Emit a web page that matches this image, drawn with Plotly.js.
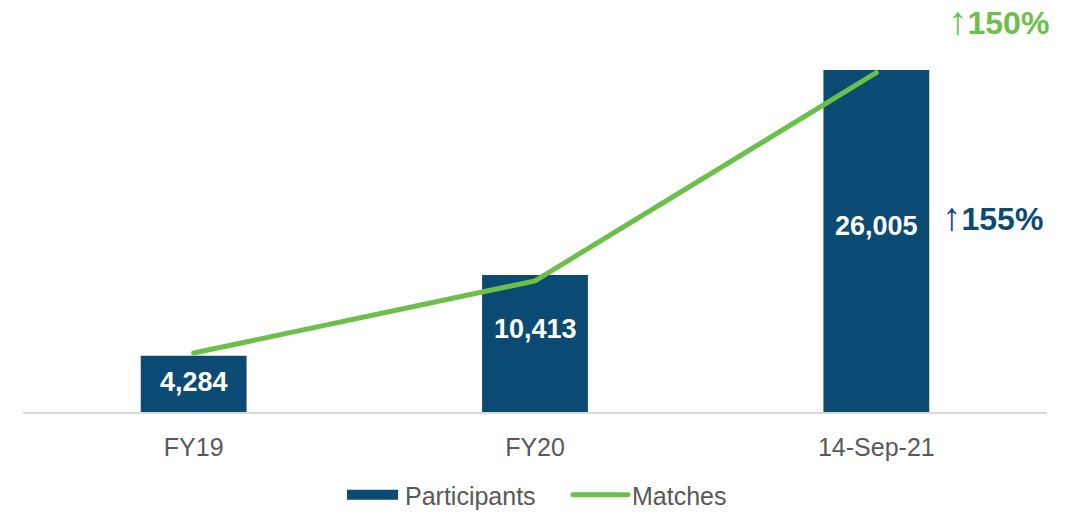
<!DOCTYPE html>
<html>
<head>
<meta charset="utf-8">
<script src="https://cdn.plot.ly/plotly-3.0.1.min.js"></script>
<style>
html,body{margin:0;padding:0;background:#fff;}
#chart{width:1076px;height:512px;}
.scatterlayer path.js-line {stroke-linecap: round;}
</style>
</head>
<body>
<div id="chart"></div>
<script>
const categories = ["FY19", "FY20", "14-Sep-21"];
const participants = [4284, 10413, 26005];
const participantLabels = ["4,284", "10,413", "26,005"];
const matches = [480, 1000, 2500];
const participantsGrowth = "155%";
const matchesGrowth = "150%";
const arrow = "↑";

const blue = "#0B4A72";
const green = "#6CC04A";
const font = "Arial, 'Liberation Sans', sans-serif";

const traces = [
  {
    type: "bar", name: "Participants", x: categories, y: participants,
    marker: {color: blue}, hoverinfo: "skip", showlegend: false
  },
  {
    type: "scatter", mode: "lines", name: "Participants", x: categories, y: [null, null, null],
    line: {color: blue, width: 16}, hoverinfo: "skip", showlegend: true
  },
  {
    type: "scatter", mode: "lines", name: "Matches", x: categories, y: matches,
    yaxis: "y2", line: {color: green, width: 5}, hoverinfo: "skip"
  }
];

const labelShift = [2, 15, 15];
const annotations = categories.map((c, i) => ({
  x: c, y: participants[i] / 2, xref: "x", yref: "y",
  text: "<b>" + participantLabels[i] + "</b>", showarrow: false,
  yshift: labelShift[i],
  font: {family: font, size: 27, color: "#ffffff"}
}));
annotations.push({
  x: 1.004, y: 1.0, xref: "paper", yref: "paper", xanchor: "right", yanchor: "middle",
  text: "<span style='font-size:39px'>" + arrow + "</span><b>" + matchesGrowth + "</b>",
  showarrow: false, font: {family: font, size: 32, color: green}
});
annotations.push({
  x: 0.947, y: 0.5, xref: "paper", yref: "paper", xanchor: "center", yanchor: "middle",
  text: "<span style='font-size:39px'>" + arrow + "</span><b>" + participantsGrowth + "</b>",
  showarrow: false, font: {family: font, size: 32, color: blue}
});

const layout = {
  width: 1076, height: 512,
  margin: {l: 23, r: 29, t: 20, b: 100, autoexpand: false},
  paper_bgcolor: "#ffffff", plot_bgcolor: "#ffffff",
  bargap: 0.69,
  font: {family: font, color: "#595959"},
  xaxis: {
    showline: true, linecolor: "#D9D9D9", linewidth: 2,
    showgrid: false, zeroline: false, ticks: "",
    ticklabelstandoff: 12,
    tickfont: {family: font, size: 25, color: "#595959"}
  },
  yaxis: {range: [0, 29800], visible: false, showgrid: false, zeroline: false},
  yaxis2: {range: [55, 2880], overlaying: "y", visible: false, showgrid: false, zeroline: false},
  showlegend: true,
  legend: {
    orientation: "h", x: 0.5, xanchor: "center", y: -0.212, yanchor: "middle",
    font: {family: font, size: 25, color: "#595959"},
    bgcolor: "rgba(0,0,0,0)", tracegroupgap: 0
  },
  annotations: annotations
};

// legend swatch placement (page px): swatch start, swatch length, text offset
const legendPlace = [[347, 51, 58], [573, 55, 59]];

Plotly.newPlot("chart", traces, layout, {displayModeBar: false, staticPlot: true}).then(gd => {
  const sb = gd.querySelector(".legend .scrollbox");
  if (sb) sb.removeAttribute("clip-path");
  const items = gd.querySelectorAll(".legend .traces");
  items.forEach((g, i) => {
    const pl = legendPlace[i];
    if (!pl) return;
    const p = g.querySelector("path.js-line");
    if (p) {
      p.setAttribute("d", "M0,0h" + pl[1]);
      p.style.strokeLinecap = i === 0 ? "butt" : "round";
    }
    const t = g.querySelector("text.legendtext");
    if (t) t.setAttribute("x", String(pl[2]));
    const m = /translate\(\s*([-\d.]+)[ ,]+([-\d.]+)\s*\)/.exec(g.getAttribute("transform") || "");
    const ctm = g.getScreenCTM();
    if (m && ctm) {
      const nx = parseFloat(m[1]) + (pl[0] - ctm.e);
      g.setAttribute("transform", "translate(" + nx + "," + m[2] + ")");
    }
  });
  const leg = gd.querySelector(".legend");
  const bg = gd.querySelector(".legend rect.bg");
  if (leg && bg) {
    const lc = leg.getScreenCTM();
    bg.setAttribute("x", String(335 - lc.e));
    bg.setAttribute("width", "410");
  }
});
</script>
</body>
</html>
